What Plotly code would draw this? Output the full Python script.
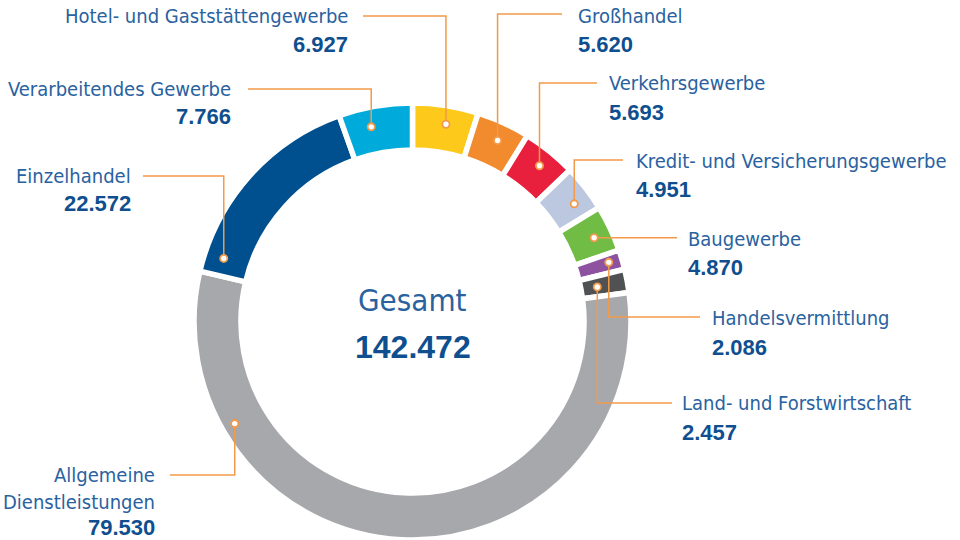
import math
import plotly.graph_objects as go

# ---------------- data ----------------
categories = [
    "Hotel- und Gaststättengewerbe",
    "Großhandel",
    "Verkehrsgewerbe",
    "Kredit- und Versicherungsgewerbe",
    "Baugewerbe",
    "Handelsvermittlung",
    "Land- und Forstwirtschaft",
    "Allgemeine<br>Dienstleistungen",
    "Einzelhandel",
    "Verarbeitendes Gewerbe",
]
values = [6927, 5620, 5693, 4951, 4870, 2086, 2457, 79530, 22572, 7766]
value_labels = ["6.927", "5.620", "5.693", "4.951", "4.870", "2.086", "2.457",
                "79.530", "22.572", "7.766"]
total_label = "142.472"
center_title = "Gesamt"

# ---------------- style / layout ----------------
colors = ["#FDC91A", "#F28A2E", "#E8203D", "#BCC8E0", "#70BC44",
          "#8E53A0", "#505153", "#A7A8AC", "#00508F", "#00ABDC"]
LABEL_COLOR = "#2A62A0"
VALUE_COLOR = "#0F4F8F"
LEADER = "#F39A4A"
LABEL_FONT = "DejaVu Sans Condensed, Liberation Sans Narrow, sans-serif"
VALUE_FONT = "Liberation Sans, Arial, sans-serif"

W, H = 960, 540
CX, CY = 412.5, 321.5
R_OUT = 218.5
HOLE = 0.785

# anchor of leader dot within each slice (fraction of slice angle, radius in px)
anchor_frac = [0.55, 0.54, 0.52, 0.63, 0.54, 0.44, 0.52, 0.785, 0.09, 0.39]
anchor_r = [200, 200, 201, 200, 200, 205, 188, 205, 199, 199]
# elbow y of leader, end x of leader, text x, side of text
elbow_y = [16, 14, 83, 160, None, 317, 403, 475, 176, 89]
line_end_x = [363, 562, 597, 623, 677, 700, 672, 170, 143, 248]
text_x = [350, 576, 607, 634, 686, 710, 680, 157, 133, 233]
text_side = ["left", "right", "right", "right", "right", "right", "right",
             "left", "left", "left"]
label_y = [16, 16, 83, 161, 239, 318, 403, 475, 176, 89]
value_y = [44, 44, 112, 189, 267, 347, 432, 527, 203, 116]

fig = go.Figure()

fig.add_trace(go.Pie(
    values=values,
    labels=[c.replace("<br>", " ") for c in categories],
    marker=dict(colors=colors, line=dict(color="white", width=5.5)),
    sort=False,
    direction="clockwise",
    rotation=0,
    hole=HOLE,
    textinfo="none",
    hoverinfo="label+value",
    showlegend=False,
    domain=dict(x=[(CX - R_OUT) / W, (CX + R_OUT) / W],
                y=[1 - (CY + R_OUT) / H, 1 - (CY - R_OUT) / H]),
))

# invisible pixel-space scatter so the x/y axes exist
fig.add_trace(go.Scatter(x=[0, W], y=[0, H], mode="markers", marker=dict(opacity=0),
                         hoverinfo="skip", showlegend=False))

total = sum(values)
cum = 0
shapes_lines, shapes_dots = [], []
for i, v in enumerate(values):
    theta = 2 * math.pi * (cum + anchor_frac[i] * v) / total
    cum += v
    dx = CX + anchor_r[i] * math.sin(theta)
    dy = CY - anchor_r[i] * math.cos(theta)
    ey = elbow_y[i] if elbow_y[i] is not None else dy
    shapes_lines.append(dict(
        type="path", xref="x", yref="y", layer="above",
        path=f"M {dx:.2f} {dy:.2f} L {dx:.2f} {ey:.2f} L {line_end_x[i]:.2f} {ey:.2f}",
        line=dict(color=LEADER, width=1.5)))
    shapes_dots.append(dict(
        type="circle", xref="x", yref="y", layer="above",
        x0=dx - 3.6, x1=dx + 3.6, y0=dy - 3.6, y1=dy + 3.6,
        fillcolor="white", line=dict(color=LEADER, width=1.8)))
    anchor = "right" if text_side[i] == "left" else "left"
    lines = categories[i].split("<br>")
    for j, ln in enumerate(lines):
        fig.add_annotation(x=text_x[i], y=label_y[i] + j * 27, xref="x", yref="y",
                           text=ln, showarrow=False, xanchor=anchor, yanchor="middle",
                           font=dict(family=LABEL_FONT, size=20, color=LABEL_COLOR))
    fig.add_annotation(x=text_x[i], y=value_y[i], xref="x", yref="y",
                       text="<b>" + value_labels[i] + "</b>", showarrow=False,
                       xanchor=anchor, yanchor="middle",
                       font=dict(family=VALUE_FONT, size=22, color=VALUE_COLOR))

fig.add_annotation(x=CX, y=300, xref="x", yref="y", text=center_title, showarrow=False,
                   font=dict(family=LABEL_FONT, size=31, color=LABEL_COLOR),
                   xanchor="center", yanchor="middle")
fig.add_annotation(x=CX, y=347, xref="x", yref="y", text="<b>" + total_label + "</b>",
                   showarrow=False, font=dict(family=VALUE_FONT, size=32, color=VALUE_COLOR),
                   xanchor="center", yanchor="middle")

fig.update_layout(
    width=W, height=H,
    margin=dict(l=0, r=0, t=0, b=0),
    paper_bgcolor="white", plot_bgcolor="rgba(0,0,0,0)",
    xaxis=dict(range=[0, W], domain=[0, 1], visible=False, fixedrange=True),
    yaxis=dict(range=[H, 0], domain=[0, 1], visible=False, fixedrange=True),
    shapes=shapes_lines + shapes_dots,
)

fig.write_html("out.html", config={"displayModeBar": False},
               post_script="document.body.style.margin='0';")
